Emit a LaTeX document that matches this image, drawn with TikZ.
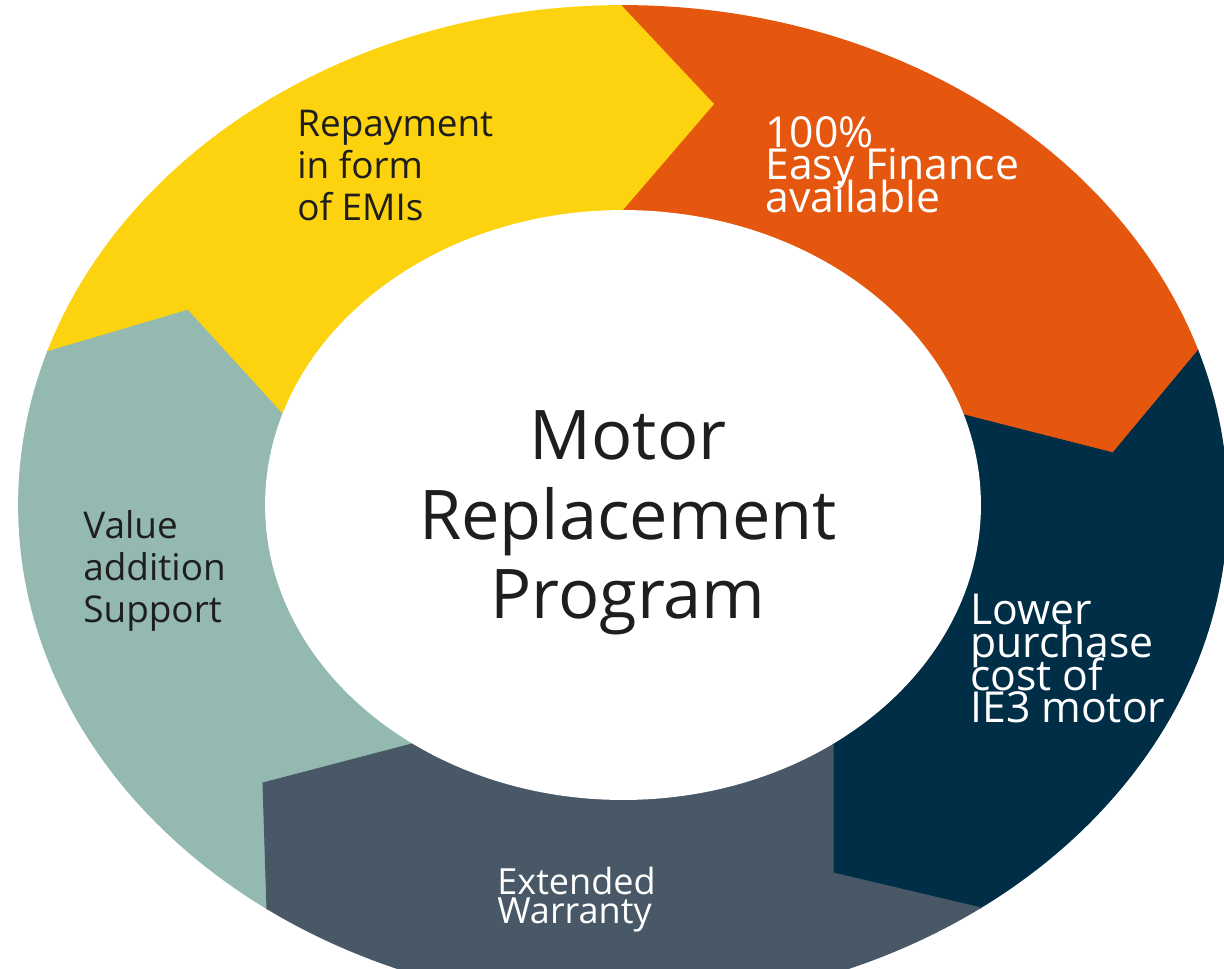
\documentclass[tikz,border=0pt]{standalone}
\usepackage{fontspec}
\setmainfont{Open Sans}
\definecolor{segyellow}{HTML}{FDD20E}
\definecolor{segorange}{HTML}{E5560F}
\definecolor{segnavy}{HTML}{002E46}
\definecolor{segslate}{HTML}{485866}
\definecolor{segteal}{HTML}{93B9B1}
\definecolor{darktext}{HTML}{1E1E1E}
\tikzset{
  seg/.style={fill=#1, draw=#1, line width=0.6pt, line join=miter},
  darklabel/.style={anchor=north west, inner sep=0pt, align=left, text=darktext,
    font={\fontsize{21}{23.8}\selectfont}},
  whitelabel/.style={anchor=north west, inner sep=0pt, align=left, text=white,
    font={\fontsize{24.3}{18.6}\selectfont\lineskiplimit=-30pt}},
}
\begin{document}
\begin{tikzpicture}[x=0.02cm,y=-0.02cm]
\useasboundingbox (0,0) rectangle (1224,968);
\clip (0,0) rectangle (1224,968);
\coordinate (C) at (623,505);
\begin{scope}
  \clip (C) ellipse [x radius=12.1cm, y radius=10cm];
  % teal (left)
  \path[seg=segteal] (C) -- (412,744) -- (263,783) -- (267,908) -- (270,1000)
    -- (-150,1100) -- (-150,380) -- (-22,371) -- (188,309) -- (282,412) -- cycle;
  % yellow (top left)
  \path[seg=segyellow] (C) -- (282,412) -- (188,309) -- (-22,371) -- (-150,-150)
    -- (577,-43) -- (715,104) -- (623,211) -- cycle;
  % orange (top right)
  \path[seg=segorange] (C) -- (623,211) -- (715,104) -- (577,-43) -- (1350,-150)
    -- (1247,291) -- (1197,352) -- (1113,453) -- (964,415) -- cycle;
  % navy (right)
  \path[seg=segnavy] (C) -- (964,415) -- (1113,453) -- (1197,352) -- (1247,291)
    -- (1400,1100) -- (1049,924) -- (833,873) -- (833,745) -- cycle;
  % slate (bottom)
  \path[seg=segslate] (C) -- (833,745) -- (833,873) -- (1049,924) -- (1049,1100)
    -- (270,1100) -- (270,1000) -- (267,908) -- (263,783) -- (412,744) -- cycle;
\end{scope}
\fill[white] (C) ellipse [x radius=7.16cm, y radius=5.9cm];

\node[anchor=north, inner sep=0pt, align=center, text=darktext,
  font={\fontsize{39}{45.4}\selectfont}] (title) at (628,410)
  {Motor\\Replacement\\Program};

\node[darklabel] (emi) at (297,110) {Repayment\\in form\\of EMIs};
\node[whitelabel] (finance) at (765,116) {100\%\\Easy Finance\\available};
\node[whitelabel] (cost) at (970,594) {Lower\\purchase\\cost of\\IE3 motor};
\node[whitelabel, font={\fontsize{20.5}{16.5}\selectfont\lineskiplimit=-30pt}] (warranty) at (497,867) {Extended\\Warranty};
\node[darklabel] (value) at (83,510) {Value\\addition\\Support};
\end{tikzpicture}
\end{document}
